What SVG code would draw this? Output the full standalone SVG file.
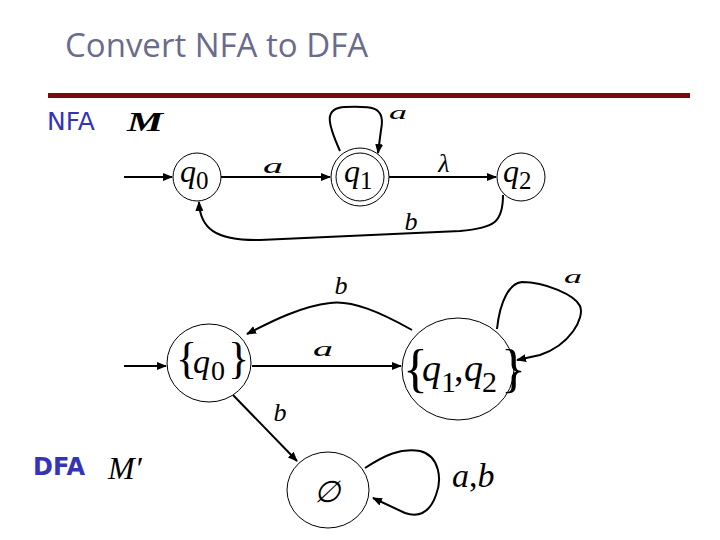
<svg xmlns="http://www.w3.org/2000/svg" width="720" height="540" viewBox="0 0 720 540">
<defs>
<marker id="ah" viewBox="0 0 10 10" refX="9" refY="5" markerWidth="10" markerHeight="10" markerUnits="userSpaceOnUse" orient="auto">
<path d="M0,1 L10,5 L0,9 z" fill="#000"/>
</marker>
<style>
.st{fill:#fff;stroke:#000;stroke-width:1}
.e{fill:none;stroke:#000;stroke-width:2;marker-end:url(#ah)}
.m{font-family:"Liberation Serif","DejaVu Serif",serif;font-style:italic;fill:#000}
.sub{font-style:normal}
.lbl{font-family:"DejaVu Sans",sans-serif;fill:#3434b4}
</style>
</defs>
<rect width="720" height="540" fill="#fff"/>
<text x="65" y="57" font-family="Open Sans, DejaVu Sans, sans-serif" font-size="33" fill="#6b6b8c">Convert NFA to DFA</text>
<rect x="48" y="93" width="642" height="5" fill="#7a0a0a"/>
<text class="lbl" x="47" y="130" font-size="25">NFA</text>
<text class="m" x="127" y="131" font-size="28" font-weight="bold" textLength="36" lengthAdjust="spacingAndGlyphs">M</text>
<text class="lbl" x="33" y="475" font-size="24" font-weight="bold">DFA</text>
<text class="m" x="108" y="479" font-size="32">M′</text>

<g id="connectors">
<path class="e" d="M124,177 L172,177"/>
<path class="e" d="M221,177 L330,177"/>
<path class="e" d="M389,177 L496,177"/>
<path class="e" d="M340,151 C327,122 324,108 345,107 C372,106 386,106 381,130 L378,153"/>
<path class="e" d="M503,195 C503,222 495,228 460,231 L260,240 C215,241 200,228 199,202"/>
<text class="m" x="273" y="173" font-size="21" text-anchor="middle" textLength="20" lengthAdjust="spacingAndGlyphs">a</text>
<text class="m" x="444" y="172" font-size="26" text-anchor="middle">λ</text>
<text class="m" x="398" y="119" font-size="19" text-anchor="middle" textLength="18" lengthAdjust="spacingAndGlyphs">a</text>
<text class="m" x="411" y="230" font-size="26" text-anchor="middle">b</text>

<path class="e" d="M124,366 L166,366"/>
<path class="e" d="M252,366 L401,366"/>
<path class="e" d="M412,330 C380,312 352,300 330,303 C302,306 272,321 247,334"/>
<path class="e" d="M497,329 C500,300 510,283 522,282 C545,282 575,295 580,306 C585,318 570,345 540,355 L517,360"/>
<path class="e" d="M233,395 L297,461"/>
<path class="e" d="M365,468 C385,455 400,448 420,451 C440,456 442,480 436,495 C430,512 420,518 405,513 L373,498"/>
<text class="m" x="323" y="356" font-size="21" text-anchor="middle" textLength="20" lengthAdjust="spacingAndGlyphs">a</text>
<text class="m" x="341" y="294" font-size="26" text-anchor="middle">b</text>
<text class="m" x="573" y="283" font-size="19" text-anchor="middle" textLength="18" lengthAdjust="spacingAndGlyphs">a</text>
<text class="m" x="280" y="421" font-size="26" text-anchor="middle">b</text>
<text class="m" x="452" y="487" font-size="34">a<tspan class="sub">,</tspan>b</text>
</g>

<g id="q0">
<circle class="st" cx="197" cy="177" r="24"/>
<text class="m" x="180" y="182" font-size="32">q<tspan class="sub" font-size="25" dy="7">0</tspan></text>
</g>
<g id="q1">
<circle class="st" cx="360" cy="177" r="29"/>
<circle class="st" cx="360" cy="177" r="24"/>
<text class="m" x="344" y="182" font-size="32">q<tspan class="sub" font-size="25" dy="7">1</tspan></text>
</g>
<g id="q2">
<circle class="st" cx="521" cy="177" r="24"/>
<text class="m" x="503" y="182" font-size="32">q<tspan class="sub" font-size="25" dy="7">2</tspan></text>
</g>

<g id="dq0">
<ellipse class="st" cx="209" cy="363" rx="42" ry="39"/>
<text class="m" y="373" font-size="34"><tspan class="sub" x="176" font-size="44">{</tspan><tspan x="193">q</tspan><tspan class="sub" x="211" y="380" font-size="28">0</tspan><tspan class="sub" x="228" y="373" font-size="44">}</tspan></text>
</g>
<g id="dq12">
<ellipse class="st" cx="458" cy="369" rx="56" ry="51"/>
<text class="m" y="386" font-size="38"><tspan class="sub" x="403" font-size="52">{</tspan><tspan x="422" y="381">q</tspan><tspan class="sub" x="441" y="392" font-size="30">1</tspan><tspan class="sub" x="454" y="381">,</tspan><tspan x="464" y="381">q</tspan><tspan class="sub" x="482" y="392" font-size="30">2</tspan><tspan class="sub" x="501" y="386" font-size="52">}</tspan></text>
</g>
<g id="empty">
<ellipse class="st" cx="328" cy="490" rx="41" ry="38"/>
<text class="m" x="327" y="502" font-size="30" text-anchor="middle">∅</text>
</g>
</svg>
